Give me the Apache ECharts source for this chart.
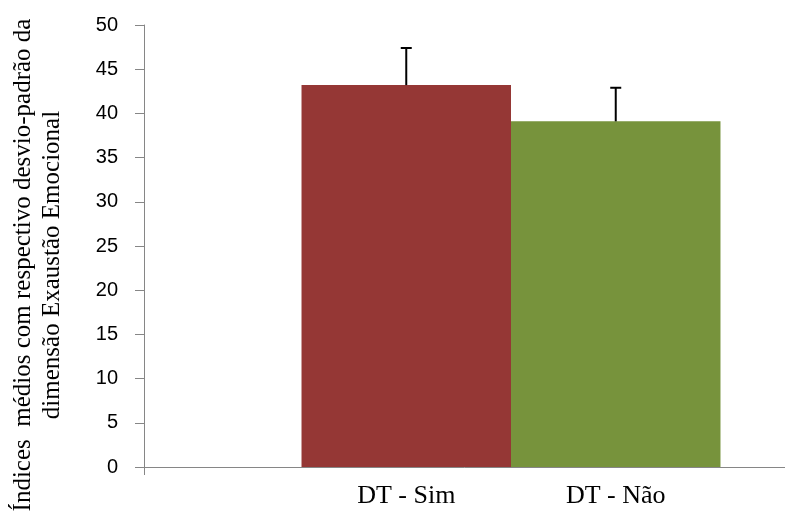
<!DOCTYPE html>
<html>
<head>
<meta charset="utf-8">
<script src="https://cdn.jsdelivr.net/npm/echarts@6/dist/echarts.min.js"></script>
<style>html,body{margin:0;padding:0;background:#fff}#c{width:785px;height:514px}</style>
</head>
<body>
<div id="c"></div>
<script>
// Data
const categories = ['DT - Sim', 'DT - Não'];
const means = [43.2, 39.1];
const sds = [4.2, 3.8];
const yTicks = { min: 0, max: 50, interval: 5 };
const colors = ['#953735', '#77933C'];
const axisTitle = 'Índices  médios com respectivo desvio-padrão da\ndimensão Exaustão Emocional';

const BAR_FRACTION = 0.2854;

const chart = echarts.init(document.getElementById('c'), null, { renderer: 'canvas' });

const barSeries = categories.map((name, i) => ({
  name: name,
  type: 'bar',
  data: [means[i]],
  barWidth: (BAR_FRACTION * 100) + '%',
  barGap: '0%',
  clip: false,
  itemStyle: { color: colors[i] },
  label: {
    show: true,
    position: 'bottom',
    distance: 16,
    formatter: '{a}',
    color: '#000',
    fontFamily: 'Liberation Serif',
    fontSize: 26
  },
  silent: true,
  z: 2
}));

const errorSeries = {
  type: 'custom',
  z: 3,
  silent: true,
  clip: false,
  data: categories.map((c, i) => [0, means[i], means[i] + sds[i], i]),
  renderItem: function (params, api) {
    const idx = api.value(3);
    const band = api.size([1, 0])[0];
    const dx = (idx - 0.5) * BAR_FRACTION * band;
    const p0 = api.coord([0, api.value(1)]);
    const p1 = api.coord([0, api.value(2)]);
    const x = p0[0] + dx;
    const half = 5.5;
    return {
      type: 'group',
      children: [
        { type: 'line', shape: { x1: x, y1: p0[1], x2: x, y2: p1[1] }, style: { stroke: '#000', lineWidth: 2 } },
        { type: 'line', shape: { x1: x - half, y1: p1[1], x2: x + half, y2: p1[1] }, style: { stroke: '#000', lineWidth: 2 } }
      ]
    };
  }
};

chart.setOption({
  animation: false,
  backgroundColor: '#fff',
  grid: { left: 144, right: -93, top: 25, bottom: 47, containLabel: false, outerBoundsMode: 'none' },
  xAxis: {
    type: 'category',
    data: [''],
    axisLine: { show: true, lineStyle: { color: '#868686', width: 1 } },
    axisTick: { show: true, length: 8, lineStyle: { color: '#868686' } },
    axisLabel: { show: false },
    splitLine: { show: false }
  },
  yAxis: {
    type: 'value',
    min: yTicks.min,
    max: yTicks.max,
    interval: yTicks.interval,
    axisLine: { show: true, lineStyle: { color: '#868686', width: 1 } },
    axisTick: { show: true, length: 9, inside: false, lineStyle: { color: '#868686' } },
    axisLabel: { color: '#000', fontFamily: 'Liberation Sans', fontSize: 20, margin: 26 },
    splitLine: { show: false },
    name: axisTitle,
    nameLocation: 'middle',
    nameGap: 77,
    nameRotate: 90,
    nameTextStyle: {
      color: '#000',
      fontFamily: 'Liberation Serif',
      fontSize: 25,
      lineHeight: 29,
      padding: [0, 38, 0, 0]
    }
  },
  series: [...barSeries, errorSeries]
});
</script>
</body>
</html>
